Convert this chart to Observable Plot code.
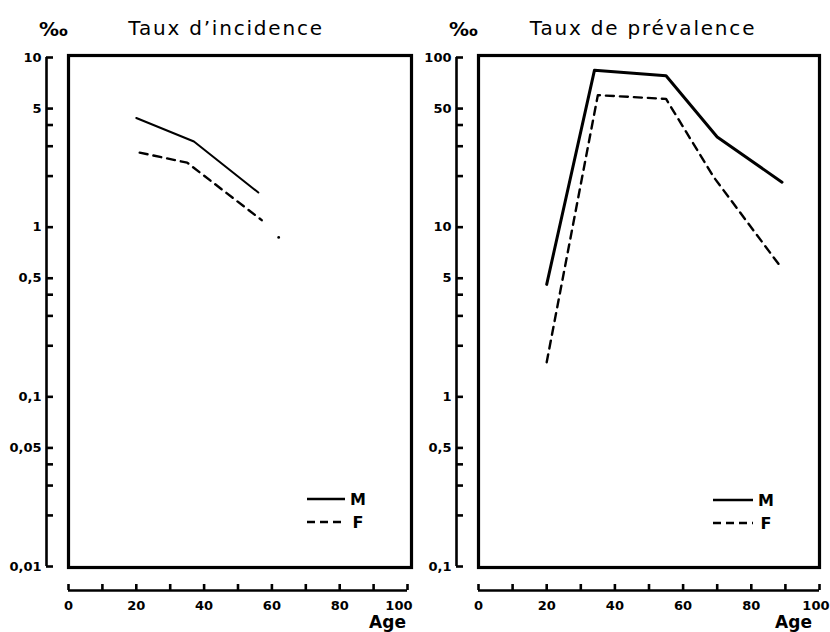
<!DOCTYPE html>
<html>
<head>
<meta charset="utf-8">
<script src="https://cdn.jsdelivr.net/npm/d3@7"></script>
<script src="https://cdn.jsdelivr.net/npm/@observablehq/plot@0.6"></script>
<style>
  body { margin: 0; background: #fff; }
  #wrap { position: relative; width: 830px; height: 632px; overflow: hidden; background: #fff; }
  #wrap > div { position: absolute; top: 0; }
</style>
</head>
<body>
<div id="wrap"><div id="p1" style="left:0"></div><div id="p2" style="left:415px"></div></div>
<script>
// ---------- data ----------
const xTicks = [0, 10, 20, 30, 40, 50, 60, 70, 80, 90, 100];
const xLabels = [0, 20, 40, 60, 80, 100];

// Taux d'incidence (‰)
const incAgesM = [20, 37, 56];
const incM = [4.4, 3.2, 1.6];
const incAgesF = [21, 35, 57];
const incF = [2.75, 2.4, 1.1];
const incStrayAge = [62];
const incStrayVal = [0.87];
const incMajor = [10, 5, 1, 0.5, 0.1, 0.05, 0.01];
const incMajorLabels = ["10", "5", "1", "0,5", "0,1", "0,05", "0,01"];
const incMinor = [4, 3, 2, 0.4, 0.3, 0.2, 0.04, 0.03, 0.02];

// Taux de prévalence (‰)
const prevAgesM = [20, 34, 55, 70, 89];
const prevM = [4.6, 84, 78, 34, 18.4];
const prevAgesF = [20, 35, 55, 69, 89];
const prevF = [1.6, 60, 57, 19.7, 5.7];
const prevMajor = [100, 50, 10, 5, 1, 0.5, 0.1];
const prevMajorLabels = ["100", "50", "10", "5", "1", "0,5", "0,1"];
const prevMinor = [40, 30, 20, 4, 3, 2, 0.4, 0.3, 0.2];

const seriesNames = ["M", "F"];
const titles = ["Taux d’incidence", "Taux de prévalence"];
const unitLabel = "‰";
const xTitle = "Age";

// ---------- drawing ----------
const FONT = "'DejaVu Sans', sans-serif";
function zip(a, b) { return a.map((v, i) => ({x: v, y: b[i]})); }

function panel(o) {
  const W = 415, H = 632, mt = 57, mb = 66;
  const plotW = W - o.marginLeft - o.marginRight;
  const plotH = H - mt - mb;
  const innerLabels = xLabels.slice(0, -1);
  const lastLabel = xLabels.slice(-1);
  const marks = [
    Plot.frame({stroke: "black", strokeWidth: 3.2, insetRight: o.frameInsetRight, insetTop: -2, insetBottom: -1}),
    // y axis line (detached, left of frame)
    Plot.tickX([xTicks[0]], {x: d => d, dx: -22, stroke: "black", strokeWidth: 2.6}),
    // y ticks
    Plot.tickY(o.major.concat(o.minor), {y: d => d, dx: -22, insetRight: plotW - 7, stroke: "black", strokeWidth: 2.6}),
    Plot.text(o.major, {y: d => d, text: (d, i) => o.majorLabels[i], frameAnchor: "left", textAnchor: "end",
      lineAnchor: "middle", dx: -27, fontSize: 13, fontWeight: "bold", fontFamily: FONT, fill: "black"}),
    // x axis (detached, below frame)
    Plot.tickY([o.domain[0]], {y: d => d, dy: 24, stroke: "black", strokeWidth: 2.6}),
    Plot.tickX(xTicks, {x: d => d, dy: 24, insetTop: plotH - 6, stroke: "black", strokeWidth: 2.6}),
    Plot.text(innerLabels, {x: d => d, text: d => String(d), frameAnchor: "bottom", lineAnchor: "middle", dy: 39,
      fontSize: 13, fontWeight: "bold", fontFamily: FONT, fill: "black"}),
    Plot.text(lastLabel, {x: d => d, text: d => String(d), frameAnchor: "bottom", lineAnchor: "middle",
      textAnchor: "end", dx: o.lastDx, dy: 39, fontSize: 13, fontWeight: "bold", fontFamily: FONT, fill: "black"}),
    Plot.text([xTitle], {text: d => d, frameAnchor: "bottom-right", textAnchor: "middle", lineAnchor: "middle",
      dx: o.ageDx, dy: 56, fontSize: 17, fontWeight: "bold", fontFamily: FONT, fill: "black"}),
    // title and unit
    Plot.text([o.title], {text: d => d, frameAnchor: "top", lineAnchor: "middle", dx: o.titleDx, dy: -29,
      fontSize: 20, fontFamily: FONT, fill: "black"}),
    Plot.text([unitLabel], {text: d => d, frameAnchor: "top-left", textAnchor: "middle", lineAnchor: "middle",
      dx: -15, dy: -28, fontSize: 20, fontWeight: "bold", fontFamily: FONT, fill: "black"}),
    // data lines
    Plot.line(zip(o.agesM, o.valsM), {x: "x", y: "y", stroke: "black", strokeWidth: o.mWidth, strokeLinejoin: "round"}),
    Plot.line(zip(o.agesF, o.valsF), {x: "x", y: "y", stroke: "black", strokeWidth: 2.4, strokeDasharray: "8,6"}),
    // legend
    (index, scales, values, dims) => {
      const g = d3.create("svg:g");
      const xr = dims.width - dims.marginRight;
      const yb = dims.height - dims.marginBottom;
      const L = o.legend;
      g.append("line").attr("x1", xr + L.x0).attr("x2", xr + L.x1).attr("y1", yb + L.yM).attr("y2", yb + L.yM)
        .attr("stroke", "black").attr("stroke-width", 2.4);
      g.append("line").attr("x1", xr + L.x0).attr("x2", xr + L.x1).attr("y1", yb + L.yF).attr("y2", yb + L.yF)
        .attr("stroke", "black").attr("stroke-width", 2.4).attr("stroke-dasharray", "8,5");
      seriesNames.forEach((s, i) => {
        g.append("text").attr("x", xr + L.tx).attr("y", yb + (i === 0 ? L.yM : L.yF)).attr("dy", "0.35em")
          .attr("font-family", FONT).attr("font-size", 16).attr("font-weight", "bold").text(s);
      });
      return g.node();
    }
  ];
  if (o.extra) marks.push(o.extra);
  const svg = Plot.plot({
    width: W, height: H,
    marginLeft: o.marginLeft, marginRight: o.marginRight, marginTop: mt, marginBottom: mb,
    x: {domain: [xTicks[0], xTicks[xTicks.length - 1]], axis: null},
    y: {type: "log", domain: o.domain, axis: null},
    style: {background: "transparent", overflow: "visible"},
    marks
  });
  d3.select(svg).selectAll("text").filter(function () { return this.textContent === o.title; })
    .attr("letter-spacing", "1.8px");
  return svg;
}

document.getElementById("p1").append(panel({
  title: titles[0], agesM: incAgesM, valsM: incM, agesF: incAgesF, valsF: incF,
  major: incMajor, majorLabels: incMajorLabels, minor: incMinor,
  domain: [incMajor[incMajor.length - 1], incMajor[0]],
  marginLeft: 68, marginRight: 8, frameInsetRight: -4, titleDx: -12, ageDx: -20, mWidth: 2, lastDx: 5,
  legend: {x0: -100, x1: -62, yM: -67, yF: -44, tx: -49},
  extra: Plot.dot(zip(incStrayAge, incStrayVal), {x: "x", y: "y", r: 1.4, fill: "black"})
}));

document.getElementById("p2").append(panel({
  title: titles[1], agesM: prevAgesM, valsM: prevM, agesF: prevAgesF, valsF: prevF,
  major: prevMajor, majorLabels: prevMajorLabels, minor: prevMinor,
  domain: [prevMajor[prevMajor.length - 1], prevMajor[0]],
  marginLeft: 63, marginRight: 11, frameInsetRight: 0, titleDx: -6, ageDx: -26, mWidth: 3, lastDx: 10,
  legend: {x0: -106, x1: -66, yM: -66, yF: -43, tx: -53}
}));
</script>
</body>
</html>
